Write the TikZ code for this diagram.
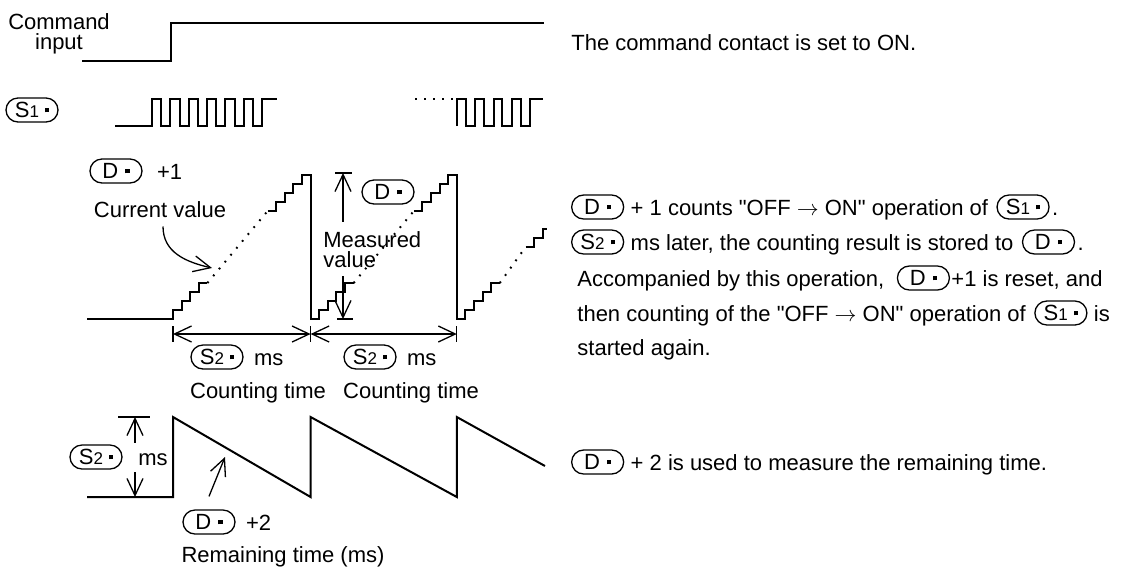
\documentclass[tikz,border=0pt]{standalone}
\usepackage{fontspec}
\setmainfont{Liberation Sans}[Ligatures=TeXOff]
\usetikzlibrary{arrows.meta,positioning}
\newcommand{\lblfont}{\fontsize{11}{12}\selectfont}
\newcommand{\sqdot}{\raisebox{2.6pt}{\rule{2.1pt}{2.1pt}}}
\newcommand{\DevD}{D\hspace{3.5pt}\sqdot}
\newcommand{\DevS}[1]{S{\fontsize{8.5}{9}\selectfont #1}\hspace{3pt}\sqdot}
\tikzset{
	sig/.style={
		line width=1pt,
		line join=miter
	},
	dimln/.style={
		line width=0.65pt
	},
	dimarr/.style={
		-{Straight Barb[length=8.5pt,width=8pt]},
		line width=0.65pt
	},
	dimboth/.style={
		{Straight Barb[length=8.5pt,width=8pt]}-{Straight Barb[length=8.5pt,width=8pt]},
		line width=0.65pt
	},
	dotrun/.style={
		line width=1pt,
		dash pattern=on 0.9pt off 3.6pt
	},
	badge/.style={
		draw,
		line width=0.65pt,
		rounded corners=6pt,
		minimum width=26pt,
		minimum height=12pt,
		inner sep=0pt,
		font=\lblfont
	},
	lbl/.style={
		inner sep=0pt,
		font=\lblfont
	},
	ln/.style={
		inner sep=0pt,
		font=\lblfont,
		text height=8pt,
		text depth=0pt
	}
}

\begin{document}
\begin{tikzpicture}[x=0.5pt, y=-0.5pt]
		\useasboundingbox (0,0) rectangle (1138,569);
		% command input
		\node[lbl, align=center] (cmd) at (59,34) {Command\\[-2pt]input};
		\draw[sig] (82,61) -- (171,61) -- (171,23) -- (544,23);
		\node[ln, anchor=west] (cmdon) at (571,42) {The command contact is set to ON.};
		% S1 pulses
		\node[badge] (s1) at (32,110) {\DevS{1}};
		\draw[sig] (115,126) -- (152,126) foreach \k in {0,...,5}{ -- ++(0,-27) -- ++(9.3,0) -- ++(0,27) -- ++(9,0) } -- ++(0,-27) -- ++(15,0);
		\draw[dotrun] (415,99) -- (455,99);
		\draw[sig] (457,126) foreach \k in {0,...,3}{ -- ++(0,-27) -- ++(8.8,0) -- ++(0,27) -- ++(9.5,0) } -- ++(0,-27) -- ++(13,0);
		% current value D+1
		\node[badge] (dplus) at (116,171) {\DevD};
		\node[ln, right=7pt of dplus] (dplustxt) {+1};
		\node[lbl] (curval) at (160,210) {Current value};
		\coordinate (curtip) at (212,268);
		\draw[dimarr] ([xshift=1.5pt,yshift=-4pt]curval.south) .. controls +(0,26) and +(-26,-6) .. (curtip);
		% staircase
		\draw[sig] (87,319) -| (173,310) foreach \i in {1,2,3}{ -| ++(8.6,-9) } -- ++(8.6,0) coordinate (g1lo);
		\coordinate (g1hi) at (267.6,211);
		\draw[dotrun] (g1lo) -- (g1hi);
		\draw[sig] (g1hi) foreach \i in {1,...,4}{ -| ++(8.6,-9) } -- ++(8.6,0) -- ++(0,144) foreach \i in {1,...,4}{ -| ++(8.6,-9) } -- ++(8.6,0) coordinate (g2lo);
		\coordinate (g2hi) at (413.8,211);
		\draw[dotrun] (g2lo) -- (g2hi);
		\draw[sig] (g2hi) foreach \i in {1,...,4}{ -| ++(8.6,-9) } -- ++(8.6,0) -- ++(0,144) foreach \i in {1,...,4}{ -| ++(8.6,-9) } -- ++(8.6,0) coordinate (g3lo);
		\coordinate (g3hi) at (525.6,247);
		\draw[dotrun] (g3lo) -- (g3hi);
		\draw[sig] (g3hi) foreach \i in {1,2}{ -| ++(8.6,-9) } -- ++(4,0);
		% measured value
		\node[badge] (dmeas) at (388,192) {\DevD};
		\node[lbl, align=left, anchor=west] (meas) at (323,250) {Measured\\[-2pt]value};
		\coordinate (mtop) at (343,173);
		\coordinate (mbot) at (343,319);
		\draw[dimarr] ([yshift=5pt]meas.north -| mtop) -- (mtop);
		\draw[dimarr] ([yshift=-4pt]meas.south -| mbot) -- (mbot);
		\draw[dimln] ([xshift=-4pt]mtop) -- ([xshift=4.5pt]mtop);
		\draw[dimln] ([xshift=-3pt]mbot) -- ([xshift=5pt]mbot);
		% counting time
		\coordinate (t0) at (173,334);
		\coordinate (t1) at (310.6,334);
		\coordinate (t2) at (456.8,334);
		\draw[dimboth] (t0) -- (t1);
		\draw[dimboth] (t1) -- (t2);
		\foreach \t in {t0,t1,t2}
			\draw[dimln] ([yshift=4pt]\t) -- ([yshift=-4pt]\t);
		\node[badge] (s2a) at (217,357) {\DevS{2}};
		\node[ln, right=5pt of s2a] (msa) {ms};
		\node[badge] (s2b) at (370,357) {\DevS{2}};
		\node[ln, right=5pt of s2b] (msb) {ms};
		\node[lbl] (cnta) at (258,393) {Counting time};
		\node[lbl] (cntb) at (411,393) {Counting time};
		% remaining time
		\draw[sig] (87,497) -- (173,497) -- (173,417) -- (310.6,497) -- (310.6,417) -- (456.8,497) -- (456.8,417) -- (545,466);
		\draw[dimln] (118,417) -- (150,417);
		\coordinate (rtop) at (135,417);
		\coordinate (rbot) at (135,497);
		\node[badge] (s2c) at (96,457) {\DevS{2}};
		\node[ln] (msc) at (153,457) {ms};
		\draw[dimarr] ([yshift=3pt]msc.north -| rtop) -- (rtop);
		\draw[dimarr] ([yshift=-3.5pt]msc.south -| rbot) -- (rbot);
		\node[badge] (dtwo) at (209,522) {\DevD};
		\node[ln, right=5pt of dtwo] (dtwotxt) {+2};
		\node[lbl] (remain) at (283,557) {Remaining time (ms)};
		\coordinate (dtip) at (225,457);
		\draw[dimarr] ([yshift=6.5pt]dtwo.north) -- (dtip);
		% explanations
		\node[badge, anchor=west] (r1a) at (571,207) {\DevD};
		\node[ln, right=3pt of r1a] (r1b) {+ 1 counts "OFF $\rightarrow$ ON" operation of};
		\node[badge, right=4pt of r1b] (r1c) {\DevS{1}};
		\node[ln, right=1pt of r1c] (r1d) {.};
		\node[badge, anchor=west] (r2a) at (571,242) {\DevS{2}};
		\node[ln, right=3pt of r2a] (r2b) {ms later, the counting result is stored to};
		\node[badge, right=4pt of r2b] (r2c) {\DevD};
		\node[ln, right=1pt of r2c] (r2d) {.};
		\node[ln, anchor=west] (r3a) at (577,278) {Accompanied by this operation,};
		\node[badge, right=6pt of r3a] (r3b) {\DevD};
		\node[ln, right=0.5pt of r3b] (r3c) {+1 is reset, and};
		\node[ln, anchor=west] (r4a) at (577,313) {then counting of the "OFF $\rightarrow$ ON" operation of};
		\node[badge, right=4pt of r4a] (r4b) {\DevS{1}};
		\node[ln, right=3pt of r4b] (r4c) {is};
		\node[ln, anchor=west] (r5a) at (577,347) {started again.};
		\node[badge, anchor=west] (r6a) at (571,462) {\DevD};
		\node[ln, right=3pt of r6a] (r6b) {+ 2 is used to measure the remaining time.};
	\end{tikzpicture}
\end{document}
